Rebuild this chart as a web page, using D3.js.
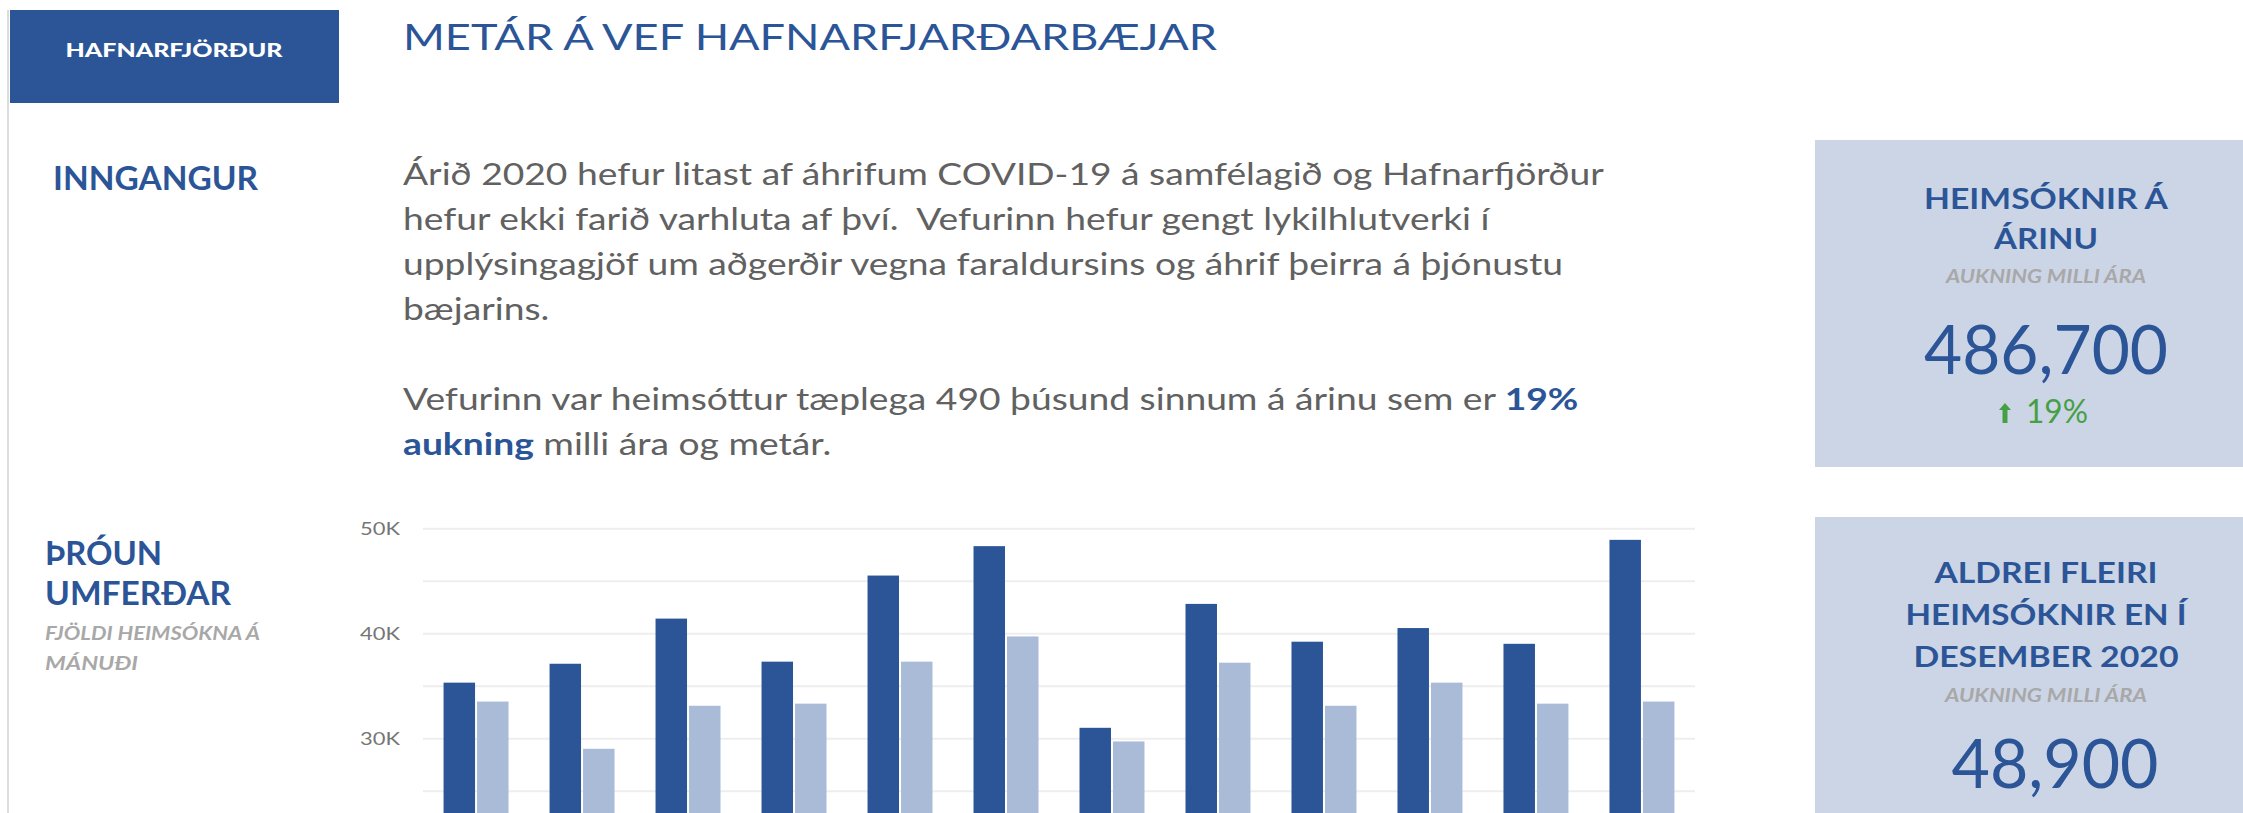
<!DOCTYPE html>
<html>
<head>
<meta charset="utf-8">
<script src="https://cdn.jsdelivr.net/npm/d3@7"></script>
<style>
  body { margin: 0; background: #fff; }
  svg { display: block; font-family: Lato, "Open Sans", sans-serif; }
</style>
</head>
<body>
<div id="page"></div>
<script>
// monthly visits, 2020 (dark) vs 2019 (light)
const months = ["jan", "feb", "mar", "apr", "maí", "jún", "júl", "ágú", "sep", "okt", "nóv", "des"];
const series = ["2020", "2019"];
const visits2020 = [35300, 37100, 41400, 37300, 45500, 48300, 31000, 42800, 39200, 40500, 39000, 48900];
const visits2019 = [33500, 29000, 33100, 33300, 37300, 39700, 29700, 37200, 33100, 35300, 33300, 33500];
// gridlines that fall inside the visible part of the chart
const gridTicks = [25000, 30000, 35000, 40000, 45000, 50000];

// KPI cards
const kpiTotal = 486700, kpiTotalChange = 0.19;
const kpiDec = 48900, kpiDecChange = 0.46;

const introLines = [
  "Árið 2020 hefur litast af áhrifum COVID-19 á samfélagið og Hafnarfjörður",
  "hefur ekki farið varhluta af því.\u00a0 Vefurinn hefur gengt lykilhlutverki í",
  "upplýsingagjöf um aðgerðir vegna faraldursins og áhrif þeirra á þjónustu",
  "bæjarins."
];

const blue = "#2b5597", lightBlue = "#aabbd8", cardBg = "#ccd5e6", green = "#45a045", grey = "#a8a8a8";

const W = 2243, H = 813;
const svg = d3.select("#page").append("svg")
  .attr("width", W)
  .attr("height", H);

svg.append("rect").attr("width", W).attr("height", H).attr("fill", "#fff");

// helper: text squeezed/stretched to the width it has in the reference
function label(parent, txt, xx, yy, size, weight, fill, len, opts) {
  opts = opts || {};
  return parent.append("text")
    .attr("x", xx).attr("y", yy)
    .attr("text-anchor", opts.anchor || "start")
    .attr("fill", fill)
    .attr("textLength", len)
    .attr("lengthAdjust", "spacingAndGlyphs")
    .style("font-size", size + "px")
    .style("font-weight", weight)
    .style("font-style", opts.italic ? "italic" : "normal")
    .text(txt);
}

// left border + header box
svg.append("rect").attr("x", 7).attr("y", 10).attr("width", 2).attr("height", H).attr("fill", "#dcdcdc");
svg.append("rect").attr("x", 10).attr("y", 10).attr("width", 329).attr("height", 93).attr("fill", blue);
label(svg, "HAFNARFJÖRÐUR", 174, 57, 19.5, 900, "#fff", 217, { anchor: "middle" });

label(svg, "METÁR Á VEF HAFNARFJARÐARBÆJAR", 403, 50, 37.5, 400, blue, 814);

// section labels
label(svg, "INNGANGUR", 53, 190, 32, 700, blue, 205);
label(svg, "ÞRÓUN", 45, 565, 32, 700, blue, 117);
label(svg, "UMFERÐAR", 45, 605, 32, 700, blue, 186);
label(svg, "FJÖLDI HEIMSÓKNA Á", 45, 640, 18.5, 700, grey, 215, { italic: true });
label(svg, "MÁNUÐI", 45, 670, 18.5, 700, grey, 93, { italic: true });

// intro paragraph (reference type runs ~1.2x wider than Lato)
const para = svg.append("g")
  .attr("transform", "translate(403,0) scale(1.2,1)")
  .attr("fill", "#616161")
  .style("font-size", "31px");
para.selectAll("text.intro")
  .data(introLines)
  .enter()
  .append("text")
    .attr("class", "intro")
    .attr("x", 0)
    .attr("y", (d, i) => 185 + i * 45)
    .text(d => d);

const l5 = para.append("text").attr("x", 0).attr("y", 410);
l5.append("tspan").text("Vefurinn var heimsóttur tæplega 490 þúsund sinnum á árinu sem er ");
l5.append("tspan").attr("fill", blue).style("font-weight", 700).text("19%");
const l6 = para.append("text").attr("x", 0).attr("y", 455);
l6.append("tspan").attr("fill", blue).style("font-weight", 700).text("aukning");
l6.append("tspan").text(" milli ára og metár.");

// bar chart
const x = d3.scaleBand()
  .domain(months)
  .range([423, 1695])
  .paddingInner(0.387)
  .paddingOuter(0.194);

const xSub = d3.scaleBand()
  .domain(series)
  .range([0, x.bandwidth()])
  .paddingInner(0.06);

const y = d3.scaleLinear()
  .domain([0, 50000])
  .range([1053.3, 528.3]);

const yAxis = svg.append("g")
  .attr("transform", "translate(423,0)")
  .call(d3.axisLeft(y)
    .tickValues(gridTicks)
    .tickSize(-(1695 - 423))
    .tickPadding(23)
    .tickFormat(d => d % 10000 === 0 ? d3.format("~s")(d).replace("k", "K") : ""));
yAxis.select(".domain").remove();
yAxis.selectAll("line").attr("stroke", "#eeeeee").attr("stroke-width", 2);
yAxis.selectAll("text")
  .attr("fill", "#767676")
  .attr("dy", "0.36em")
  .style("font-size", "16.5px")
  .style("font-family", "Lato, sans-serif")
  .filter(function() { return this.textContent !== ""; })
    .attr("textLength", 40)
    .attr("lengthAdjust", "spacingAndGlyphs");

const rows = months.map((m, i) => ({ month: m, values: [visits2020[i], visits2019[i]] }));

const groups = svg.selectAll("g.month")
  .data(rows)
  .enter()
  .append("g")
    .attr("class", "month")
    .attr("transform", d => "translate(" + x(d.month) + ",0)");

groups.selectAll("rect")
  .data(d => d.values.map((v, j) => ({ key: series[j], value: v })))
  .enter()
  .append("rect")
    .attr("x", d => xSub(d.key))
    .attr("width", xSub.bandwidth())
    .attr("y", d => y(d.value))
    .attr("height", d => y(0) - y(d.value))
    .attr("fill", d => d.key === "2020" ? blue : lightBlue);

// KPI cards
const cx = 2046;
svg.append("rect").attr("x", 1815).attr("y", 140).attr("width", 462).attr("height", 327).attr("fill", cardBg);
svg.append("rect").attr("x", 1815).attr("y", 517).attr("width", 462).attr("height", 400).attr("fill", cardBg);

function cardChange(v, yy) {
  const g = svg.append("g");
  g.append("path")
    .attr("d", "M2005," + (yy - 20) + " l-6,7 h3.5 v13 h5 v-13 h3.5 z")
    .attr("fill", green);
  label(g, d3.format(".0%")(v), 2026, yy, 32, 400, green, 62);
}

label(svg, "HEIMSÓKNIR Á", cx, 209, 28, 700, blue, 244, { anchor: "middle" });
label(svg, "ÁRINU", cx, 248.5, 28, 700, blue, 104, { anchor: "middle" });
label(svg, "AUKNING MILLI ÁRA", cx, 283, 18.5, 700, grey, 200, { anchor: "middle", italic: true });
label(svg, d3.format(",")(kpiTotal), cx, 374, 67, 400, blue, 244, { anchor: "middle" });
cardChange(kpiTotalChange, 423);

label(svg, "ALDREI FLEIRI", cx, 583, 28, 700, blue, 223, { anchor: "middle" });
label(svg, "HEIMSÓKNIR EN Í", cx, 625, 28, 700, blue, 281, { anchor: "middle" });
label(svg, "DESEMBER 2020", cx, 666.5, 28, 700, blue, 265, { anchor: "middle" });
label(svg, "AUKNING MILLI ÁRA", cx, 701.5, 18.5, 700, grey, 202, { anchor: "middle", italic: true });
label(svg, d3.format(",")(kpiDec), 2055, 788, 67, 400, blue, 207, { anchor: "middle" });
cardChange(kpiDecChange, 839);
</script>
</body>
</html>
